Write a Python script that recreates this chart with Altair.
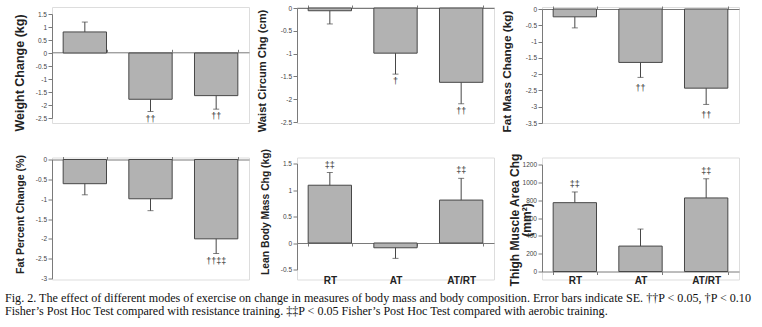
import altair as alt
import pandas as pd

categories = ["RT", "AT", "AT/RT"]

weight_mean = [0.81, -1.78, -1.64]
weight_se = [0.38, 0.47, 0.52]
weight_sig = ["", "††", "††"]

waist_mean = [-0.06, -0.99, -1.63]
waist_se = [0.29, 0.46, 0.47]
waist_sig = ["", "†", "††"]

fatmass_mean = [-0.24, -1.64, -2.43]
fatmass_se = [0.34, 0.46, 0.50]
fatmass_sig = ["", "††", "††"]

fatpct_mean = [-0.61, -0.99, -2.00]
fatpct_se = [0.28, 0.30, 0.37]
fatpct_sig = ["", "", "††‡‡"]

lean_mean = [1.09, -0.09, 0.81]
lean_se = [0.24, 0.20, 0.41]
lean_sig = ["‡‡", "", "‡‡"]

thigh_mean = [772, 285, 825]
thigh_se = [120, 191, 215]
thigh_sig = ["‡‡", "", "‡‡"]

caption_lines = [
    "Fig. 2. The effect of different modes of exercise on change in measures of body mass and body composition. Error bars indicate SE. ††P < 0.05, †P < 0.10",
    "Fisher’s Post Hoc Test compared with resistance training. ‡‡P < 0.05 Fisher’s Post Hoc Test compared with aerobic training.",
]

FONT = "Liberation Sans"
AXIS_GRAY = "#7a7a7a"
BAR_FILL = "#b2b2b2"
BAR_STROKE = "#474747"
W = 197


def make_panel(mean, se, sig, title, domain, ticks, rng, height, zero_y,
               title_size, title_x, title_y,
               show_labels=False, label_pad=0, gap=3, ext=16, tpad=10):
    df = pd.DataFrame({"cat": categories, "mean": mean, "se": se, "sig": sig})
    df["end"] = [m + s if m >= 0 else m - s for m, s in zip(mean, se)]

    if show_labels:
        xaxis = alt.Axis(orient="bottom", offset=zero_y - height, labels=True,
                         labelFontSize=10, labelFontWeight="bold", labelColor="#222",
                         labelPadding=label_pad, labelAngle=0, tickBand="extent",
                         tickSize=3, tickColor=AXIS_GRAY, domainColor=AXIS_GRAY,
                         labelFont=FONT)
    else:
        xaxis = alt.Axis(orient="top", offset=-zero_y, labels=False,
                         tickBand="extent", tickSize=3, tickColor=AXIS_GRAY,
                         domainColor=AXIS_GRAY)
    x = alt.X("cat:N", sort=categories, title=None,
              scale=alt.Scale(paddingInner=0.34, paddingOuter=0.17), axis=xaxis)
    yscale = alt.Scale(domain=domain, range=rng, nice=False, zero=False)
    yaxis = alt.Axis(values=ticks, labelExpr="'' + datum.value", labelFontSize=6.5,
                     labelColor="#444", labelPadding=1.5, tickSize=4,
                     tickColor=AXIS_GRAY, domainColor=AXIS_GRAY, grid=False,
                     minExtent=ext, maxExtent=ext, titlePadding=tpad,
                     titleFontSize=title_size, titleFontWeight="bold",
                     titleColor="#222", titleFont=FONT, labelFont=FONT,
                     titleLineHeight=12.5, titleX=title_x, titleY=title_y)

    base = alt.Chart(df)
    bars = base.mark_bar(fill=BAR_FILL, stroke=BAR_STROKE, strokeWidth=1).encode(
        x=x, y=alt.Y("mean:Q", scale=yscale, axis=yaxis, title=title),
        y2=alt.datum(0))
    err = base.mark_rule(color=BAR_STROKE, strokeWidth=1).encode(
        x=x, y=alt.Y("mean:Q", scale=yscale, axis=yaxis, title=title), y2="end:Q")
    cap = base.mark_tick(color=BAR_STROKE, size=6, thickness=1).encode(
        x=x, y=alt.Y("end:Q", scale=yscale, axis=yaxis, title=title))
    neg = base.transform_filter("datum.mean < 0").mark_text(
        baseline="top", dy=gap, fontSize=9, color="#333", font=FONT).encode(
        x=x, y=alt.Y("end:Q", scale=yscale, axis=yaxis, title=title), text="sig:N")
    pos = base.transform_filter("datum.mean >= 0").mark_text(
        baseline="bottom", dy=-gap, fontSize=9, color="#333", font=FONT).encode(
        x=x, y=alt.Y("end:Q", scale=yscale, axis=yaxis, title=title), text="sig:N")
    return alt.layer(bars, err, cap, neg, pos).properties(width=W, height=height)


H1 = 116
H2 = 122

p1 = make_panel(weight_mean, weight_se, weight_sig, "Weight Change (kg)",
                [-2.5, 1.5], [-2.5, -2, -1.5, -1, -0.5, 0, 0.5, 1, 1.5],
                [111, 7], H1, 45.3, 12.5, -26, 65.5, gap=3)
p2 = make_panel(waist_mean, waist_se, waist_sig, "Waist Circum Chg (cm)",
                [-2.5, 0], [-2.5, -2, -1.5, -1, -0.5, 0],
                [115, 1], H1, 1, 11.2, -30, 63.5, gap=3)
p3 = make_panel(fatmass_mean, fatmass_se, fatmass_sig, "Fat Mass Change (kg)",
                [-3.5, 0], [-3.5, -3, -2.5, -2, -1.5, -1, -0.5, 0],
                [116, 2], H1, 2, 11.8, -30, 64, gap=7)
p4 = make_panel(fatpct_mean, fatpct_se, fatpct_sig, "Fat Percent Change (%)",
                [-3, 0], [-3, -2.5, -2, -1.5, -1, -0.5, 0],
                [121, 2], H2, 2, 10.6, -27, 56.5, gap=3)
p5 = make_panel(lean_mean, lean_se, lean_sig, "Lean Body Mass Chg (kg)",
                [-0.5, 1.5], [-0.5, 0, 0.5, 1, 1.5],
                [112, 6], H2, 85.5, 10.3, -27, 54,
                show_labels=True, label_pad=29, gap=3)
p6 = make_panel(thigh_mean, thigh_se, thigh_sig, ["Thigh Muscle Area Chg", "(mm²)"],
                [0, 1200], [0, 200, 400, 600, 800, 1000, 1200],
                [114, 7], H2, 114, 12, -21, 62,
                show_labels=True, label_pad=0.5, gap=3, ext=14, tpad=6)

chart = alt.concat(p1, p2, p3, p4, p5, p6, columns=3,
                   spacing={"row": 14.5, "column": 5}).properties(
    padding={"left": 5, "top": 4, "right": 0, "bottom": 0},
    title=alt.TitleParams(text=caption_lines, orient="bottom", anchor="start",
                          frame="group", dx=-47, offset=5, font="Liberation Serif",
                          fontSize=12.1, fontWeight="normal", color="#111",
                          lineHeight=13.5),
).configure_view(strokeWidth=0).configure(font=FONT)

chart.save("out.html", embed_options={"renderer": "svg", "actions": False})
